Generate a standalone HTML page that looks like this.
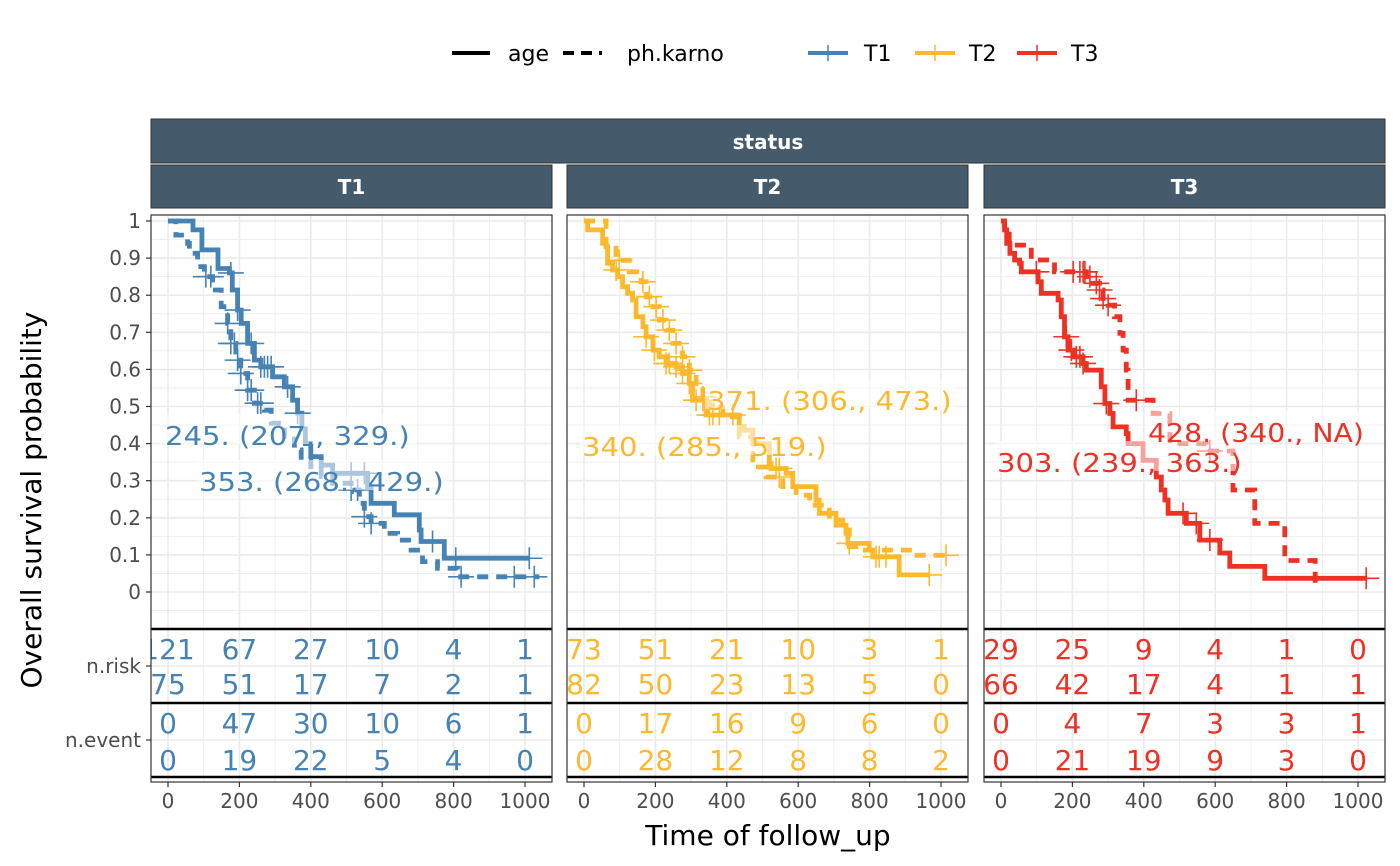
<!DOCTYPE html>
<html><head><meta charset="utf-8"><style>
html,body{margin:0;padding:0;background:#fff}
svg{display:block;font-family:"DejaVu Sans","Liberation Sans",sans-serif}
</style></head><body>
<svg id="chart" width="1400" height="866" viewBox="0 0 1400 866">
<g>
 <line x1="452" y1="53" x2="490" y2="53" stroke="#000" stroke-width="4"/>
 <text x="508" y="61" font-size="22">age</text>
 <line x1="563" y1="53" x2="602" y2="53" stroke="#000" stroke-width="4" stroke-dasharray="11,7"/>
 <text x="627" y="61" font-size="22">ph.karno</text>
 <g><line x1="808" y1="53" x2="848" y2="53" stroke="#4682B4" stroke-width="4"/><line x1="828" y1="45" x2="828" y2="61" stroke="#4682B4" stroke-width="1.5"/><text x="864" y="61" font-size="22">T1</text></g>
 <g><line x1="915" y1="53" x2="955" y2="53" stroke="#FDB92E" stroke-width="4"/><line x1="935" y1="45" x2="935" y2="61" stroke="#FDB92E" stroke-width="1.5"/><text x="969" y="61" font-size="22">T2</text></g>
 <g><line x1="1017" y1="53" x2="1057" y2="53" stroke="#EE3124" stroke-width="4"/><line x1="1037" y1="45" x2="1037" y2="61" stroke="#EE3124" stroke-width="1.5"/><text x="1071" y="61" font-size="22">T3</text></g>
</g>
<g>
 <rect x="151" y="119" width="1234" height="44" fill="#455A6A" stroke="#333" stroke-width="1"/>
 <text x="768" y="149" font-size="20" font-weight="bold" fill="#fff" text-anchor="middle">status</text>
</g>
<text transform="translate(41,500) rotate(-90)" font-size="28" text-anchor="middle">Overall survival probability</text>
<text x="768" y="845" font-size="28" text-anchor="middle">Time of follow_up</text>
<g id="panels"></g>
</svg>
<script>
const groups = ["T1","T2","T3"];
const colors = ["#4682B4","#FDB92E","#EE3124"];
const xTicks = [0,200,400,600,800,1000];
const yTicks = [0,0.1,0.2,0.3,0.4,0.5,0.6,0.7,0.8,0.9,1];
const yTickLabels = ["0","0.1","0.2","0.3","0.4","0.5","0.6","0.7","0.8","0.9","1"];

// T1 age (solid)
const t1AgeTimes = [70,95,140,172,180,195,205,223,242,260,293,326,349,363,375,385,400,429,461,559,569,634,704,709,774];
const t1AgeSurv  = [0.976,0.922,0.872,0.86,0.814,0.76,0.724,0.67,0.625,0.607,0.58,0.553,0.517,0.482,0.44,0.40,0.365,0.342,0.32,0.284,0.239,0.208,0.167,0.136,0.091];
const t1AgeCensor = [176,195,233,260,270,279,289,335,363,513,550,741,806,1012];
const t1AgeEnd = 1012;
// T1 ph.karno (dashed)
const t1PkTimes = [22,55,60,83,92,102,125,149,167,176,190,204,223,242,270,289,326,354,373,400,429,461,513,536,550,569,606,643,681,713,755,811];
const t1PkSurv  = [0.962,0.94,0.913,0.895,0.877,0.85,0.814,0.769,0.724,0.67,0.625,0.589,0.544,0.509,0.49,0.455,0.419,0.383,0.356,0.338,0.311,0.293,0.275,0.239,0.203,0.185,0.158,0.14,0.113,0.082,0.064,0.041];
const t1PkCensor = [106,120,167,176,186,195,204,223,233,251,260,513,531,550,569,821,970,1026];
const t1PkEnd = 1040;
// T2 age
const t2AgeTimes = [10,52,62,66,80,94,108,122,136,146,165,174,193,211,230,258,276,295,304,342,435,449,473,519,524,566,585,650,659,706,734,739,799,809,883];
const t2AgeSurv  = [0.976,0.94,0.931,0.886,0.868,0.85,0.823,0.805,0.787,0.742,0.715,0.688,0.652,0.634,0.616,0.607,0.589,0.562,0.517,0.477,0.445,0.436,0.4,0.346,0.333,0.32,0.284,0.248,0.212,0.18,0.158,0.131,0.113,0.095,0.046];
const t2AgeCensor = [90,174,197,230,239,258,276,295,314,333,351,361,379,417,538,547,743,818,827,846,967];
const t2AgeEnd = 967;
// T2 ph.karno
const t2PkTimes = [62,90,127,160,174,193,211,230,249,276,295,314,333,351,389,435,473,510,557,594,632,687,725,743,771,920];
const t2PkSurv  = [0.935,0.894,0.863,0.836,0.796,0.769,0.733,0.706,0.67,0.634,0.598,0.562,0.526,0.504,0.472,0.418,0.337,0.31,0.284,0.261,0.234,0.194,0.167,0.122,0.113,0.099];
const t2PkCensor = [99,165,183,202,221,239,258,276,295,333,547,1014];
const t2PkEnd = 1014;
// T3 age
const t3AgeTimes = [10,16,25,38,52,57,104,113,160,169,178,188,202,230,239,281,291,305,314,351,356,398,435,449,459,468,519,557,613,641,739];
const t3AgeSurv  = [0.976,0.94,0.913,0.895,0.886,0.863,0.836,0.805,0.787,0.742,0.688,0.652,0.634,0.616,0.598,0.553,0.508,0.481,0.445,0.427,0.4,0.355,0.31,0.275,0.248,0.212,0.185,0.14,0.105,0.069,0.037];
const t3AgeCensor = [99,183,197,211,221,230,295,510,547,585,1023];
const t3AgeEnd = 1023;
// T3 ph.karno
const t3PkTimes = [10,23,85,150,239,258,276,286,300,318,333,342,351,356,426,473,575,650,711,795,880];
const t3PkSurv  = [0.976,0.935,0.895,0.863,0.85,0.832,0.814,0.791,0.773,0.742,0.697,0.652,0.598,0.517,0.481,0.40,0.38,0.275,0.185,0.085,0.005];
const t3PkCensor = [202,221,230,235,249,267,276,286,300,379,585];
const t3PkEnd = 880;

const nRiskAge = [[121,67,27,10,4,1],[73,51,21,10,3,1],[29,25,9,4,1,0]];
const nRiskPk  = [[75,51,17,7,2,1],[82,50,23,13,5,0],[66,42,17,4,1,1]];
const nEventAge = [[0,47,30,10,6,1],[0,17,16,9,6,0],[0,4,7,3,3,1]];
const nEventPk  = [[0,19,22,5,4,0],[0,28,12,8,8,2],[0,21,19,9,3,0]];

const medianLabels = [
 ["245. (207., 329.)","353. (268., 429.)"],
 ["340. (285., 519.)","371. (306., 473.)"],
 ["303. (239., 363.)","428. (340., NA)"]];
const medianLabelPos = [[[165,436],[199,482]],[[582,447],[707,401]],[[997,463],[1148,433]]];

const series = [
 [{t:t1AgeTimes,s:t1AgeSurv,c:t1AgeCensor,e:t1AgeEnd},{t:t1PkTimes,s:t1PkSurv,c:t1PkCensor,e:t1PkEnd}],
 [{t:t2AgeTimes,s:t2AgeSurv,c:t2AgeCensor,e:t2AgeEnd},{t:t2PkTimes,s:t2PkSurv,c:t2PkCensor,e:t2PkEnd}],
 [{t:t3AgeTimes,s:t3AgeSurv,c:t3AgeCensor,e:t3AgeEnd},{t:t3PkTimes,s:t3PkSurv,c:t3PkCensor,e:t3PkEnd}]];

const NS="http://www.w3.org/2000/svg";
const panelLeft=[151,567,984], panelW=401, plotTop=215, plotBottom=629, boxBottom=782;
const y = v => 592 - v*371;
function mk(tag, attrs, parent){const e=document.createElementNS(NS,tag);for(const k in attrs)e.setAttribute(k,attrs[k]);parent.appendChild(e);return e;}
function survAt(ts,ss,t){let v=1;for(let i=0;i<ts.length;i++){if(ts[i]<=t)v=ss[i];}return v;}
const root=document.getElementById('panels');
const defs=mk('defs',{},root);
groups.forEach((g,gi)=>{
  const L=panelLeft[gi];
  const x = t => L+17+t*0.357;
  const pg=mk('g',{},root);
  
  
  const strip=mk('g',{},pg);
  
  
  mk('rect',{x:L,y:165,width:panelW,height:43,fill:'#455A6A',stroke:'#333','stroke-width':1},strip);
  const st=mk('text',{x:L+panelW/2,y:194,'font-size':20,'font-weight':'bold',fill:'#fff','text-anchor':'middle'},strip);st.textContent=g;
  const cp=mk('clipPath',{id:'clip'+gi},defs);
  mk('rect',{x:L,y:plotTop,width:panelW,height:boxBottom-plotTop},cp);
  const body=mk('g',{'clip-path':'url(#clip'+gi+')'},pg);
  for(let t=0;t<=1100;t+=100){mk('line',{x1:x(t),x2:x(t),y1:plotTop,y2:boxBottom,stroke:'#ebebeb','stroke-width':t%200===0?1.6:0.8},body);}
  for(let k=-1;k<=21;k++){const v=k*0.05;mk('line',{x1:L,x2:L+panelW,y1:y(v),y2:y(v),stroke:'#ebebeb','stroke-width':k%2===0?1.6:0.8},body);}
  [666,740].forEach(yy=>mk('line',{x1:L,x2:L+panelW,y1:yy,y2:yy,stroke:'#ebebeb','stroke-width':1.6},body));
  series[gi].forEach((sr,si)=>{
    let d='M'+x(0)+','+y(1);
    sr.t.forEach((t,i)=>{d+=' H'+x(t).toFixed(1)+' V'+y(sr.s[i]).toFixed(1);});
    d+=' H'+x(sr.e).toFixed(1);
    const p=mk('path',{d:d,fill:'none',stroke:colors[gi],'stroke-width':4.8},body);
    if(si===1)p.setAttribute('stroke-dasharray','11,8');
    
    
    sr.c.forEach(ct=>{
      const cx=x(ct), cy=y(survAt(sr.t,sr.s,ct));
      const c=mk('path',{d:`M${cx-13},${cy}H${cx+13}M${cx},${cy-11}V${cy+11}`,stroke:colors[gi],'stroke-width':1.6,fill:'none'},body);
      
      
    });
  });
  medianLabels[gi].forEach((lab,li)=>{
    const [lx,ly]=medianLabelPos[gi][li];
    mk('rect',{x:lx-2,y:ly-22,width:lab.length*14.6+4,height:30,fill:'#fff','fill-opacity':0.55},body);
    const tx=mk('text',{x:lx,y:ly+9,'font-size':26,fill:colors[gi],textLength:lab.length*14.4,lengthAdjust:'spacingAndGlyphs'},body);
    tx.textContent=lab;
    
    
  });
  [629,703,777].forEach(yy=>mk('line',{x1:L,x2:L+panelW,y1:yy,y2:yy,stroke:'#000','stroke-width':2.5},body));
  const rows=[[nRiskAge,659],[nRiskPk,694],[nEventAge,733],[nEventPk,770]];
  rows.forEach(([arr,ry])=>{
    arr[gi].forEach((v,i)=>{
      const tx=mk('text',{x:x(xTicks[i]),y:ry,'font-size':28,fill:colors[gi],'text-anchor':'middle'},body);
      tx.textContent=v;
      
      
    });
  });
  mk('rect',{x:L,y:plotTop,width:panelW,height:boxBottom-plotTop,fill:'none',stroke:'#333','stroke-width':1.2},pg);
  xTicks.forEach(t=>{
    mk('line',{x1:x(t),x2:x(t),y1:boxBottom,y2:boxBottom+5,stroke:'#333','stroke-width':1.2},pg);
    const tl=mk('text',{x:x(t),y:808,'font-size':20,fill:'#4d4d4d','text-anchor':'middle'},pg);
    tl.textContent=t;
    
    
  });
});
const ya=mk('g',{},root);


yTicks.forEach((v,i)=>{
  mk('line',{x1:146,x2:151,y1:y(v),y2:y(v),stroke:'#333','stroke-width':1.2},ya);
  const t=mk('text',{x:141,y:y(v)+7,'font-size':20,fill:'#4d4d4d','text-anchor':'end'},ya);
  t.textContent=yTickLabels[i];
});
[["n.risk",666],["n.event",740]].forEach(([s,yy])=>{
  mk('line',{x1:146,x2:151,y1:yy,y2:yy,stroke:'#333','stroke-width':1.2},ya);
  const t=mk('text',{x:141,y:yy+7,'font-size':20,fill:'#4d4d4d','text-anchor':'end'},ya);
  t.textContent=s;
});
</script>
</body></html>
